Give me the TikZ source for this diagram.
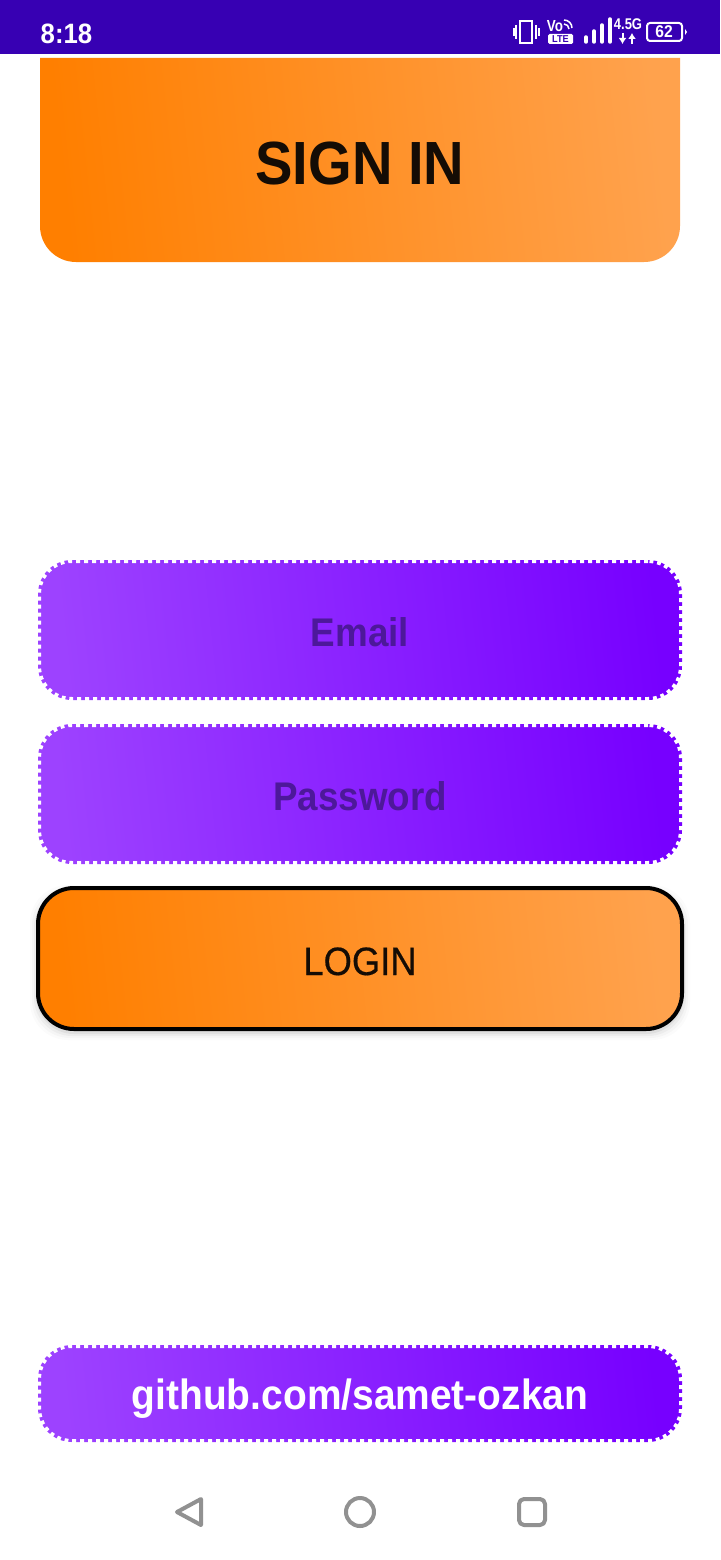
\documentclass[tikz,border=0pt]{standalone}
\usepackage{fontspec}
\usetikzlibrary{arrows.meta}
\setmainfont[FakeStretch=0.92]{Liberation Sans}
\newfontfamily\iconfont[FakeStretch=0.84]{Liberation Sans}
\newfontfamily\mediumfont[FakeStretch=0.92,FakeBold=0.5]{Liberation Sans}
\definecolor{barpurple}{HTML}{3700B3}
\definecolor{orangeA}{HTML}{FF7F00}
\definecolor{orangeB}{HTML}{FFA24D}
\definecolor{purpleA}{HTML}{9D42FF}
\definecolor{purpleB}{HTML}{7700FF}
\definecolor{hinttext}{HTML}{4D189A}
\definecolor{darktext}{HTML}{140C05}
\definecolor{navgray}{HTML}{919191}
\newcommand{\px}[1]{\fontsize{#1}{#1}\selectfont}
\begin{document}
\begin{tikzpicture}[
  x=1pt, y=-1pt,
  orangeshade/.style={left color=orangeA, right color=orangeB, shading angle=96},
  purpleshade/.style={left color=purpleA, right color=purpleB, shading angle=96},
  fieldbox/.style={rectangle, purpleshade, draw=white, line width=6pt, dash pattern=on 4pt off 4pt,
    rounded corners=34pt, minimum width=644pt, outer sep=0pt, inner sep=0pt},
  hintlabel/.style={font=\bfseries\px{40}, text=hinttext, anchor=base},
  baricon/.style={draw=white, line width=2pt},
  barlabel/.style={text=white, inner sep=0pt, anchor=base},
  navicon/.style={draw=navgray, line width=4pt, line join=round}
]
\useasboundingbox (0,0) rectangle (720,1560);
\fill[white] (0,0) rectangle (720,1560);

\fill[barpurple] (0,0) rectangle (720,54);
\node[barlabel, font=\bfseries\px{28}] (clock) at (66.5,44) {8:18};

\draw[baricon] (520,21) rectangle (532,43);
\draw[baricon] (516,25) -- (516,39);
\draw[baricon] (536,25) -- (536,39);
\draw[baricon] (513.5,28) -- (513.5,36);
\draw[baricon] (538.5,28) -- (538.5,36);
\node[barlabel, font=\bfseries\iconfont\px{16}] (vo) at (555,32) {Vo};
\draw[baricon, line width=1.5pt] (564,24) arc[start angle=-90, end angle=0, radius=5];
\draw[baricon, line width=1.5pt] (564,20) arc[start angle=-90, end angle=0, radius=8];
\fill[white, rounded corners=1.5pt] (548,34) rectangle (573,44);
\node[text=barpurple, inner sep=0pt, font=\bfseries\px{10}] (lte) at (560.5,39) {LTE};
\foreach \barx/\bartop in {586/37, 594/31, 602/25, 610/19}
  \draw[white, line width=3.5pt, line cap=round] (\barx,\bartop) -- (\barx,42);
\node[barlabel, font=\bfseries\iconfont\px{15.5}] (net) at (628,30) {4.5G};
\draw[white, line width=2pt, -{Latex[length=6pt,width=8pt]}] (622.5,33) -- (622.5,44);
\draw[white, line width=2pt, -{Latex[length=6pt,width=8pt]}] (632,44) -- (632,33);
\draw[baricon, rounded corners=3pt] (647,23) rectangle (682,41);
\fill[white] (685,29) -- (687,32) -- (685,35) -- cycle;
\node[barlabel, font=\bfseries\px{17}] (battery) at (664,38) {62};

\path[orangeshade] (40,58) -- (680,58) [rounded corners=36pt] -- (680,262) -- (40,262) [sharp corners] -- cycle;
\node[text=darktext, font=\bfseries\px{61}, anchor=base] (title) at (360,184) {SIGN IN};

\node[fieldbox, minimum height=140pt] (email) at (360,630) {};
\node[hintlabel] (emailtext) at (360,646) {Email};
\node[fieldbox, minimum height=140pt] (password) at (360,794) {};
\node[hintlabel] (passwordtext) at (360,810) {Password};

\foreach \grow/\fade in {7/0.015, 5/0.025, 3/0.035, 1/0.05}
  \fill[black, opacity=\fade, rounded corners=38pt] (37-\grow,892-\grow) rectangle (683+\grow,1033+\grow);
\node[rectangle, orangeshade, draw=black, line width=4pt, rounded corners=36pt, minimum width=644pt,
  minimum height=141pt, outer sep=0pt, inner sep=0pt] (login) at (360,958.5) {};
\node[text=darktext, font=\mediumfont\px{39.5}, anchor=base] (logintext) at (360,975) {LOGIN};

\node[fieldbox, minimum height=97pt] (github) at (360,1393.5) {};
\node[text=white, font=\bfseries\px{42.3}, anchor=base] (githubtext) at (360,1409) {github.com/samet-ozkan};

\draw[navicon] (177,1512) -- (201,1499) -- (201,1525) -- cycle;
\draw[navicon] (360,1512) circle[radius=14];
\draw[navicon, rounded corners=5pt] (519,1499) rectangle (545,1525);
\end{tikzpicture}
\end{document}
